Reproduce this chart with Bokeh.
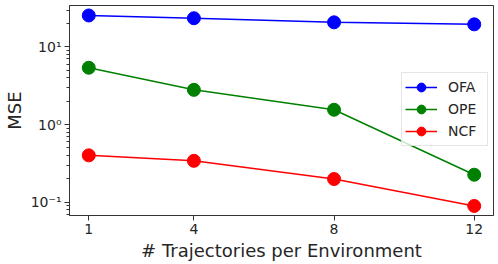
from bokeh.plotting import figure
from bokeh.models import Range1d, FixedTicker, Legend, LegendItem
from bokeh.embed import file_html
from bokeh.resources import INLINE

x_vals = [1, 4, 8, 12]
x_ticks = [1, 4, 8, 12]
ofa = [25.5, 23.5, 20.8, 19.6]
ope = [5.4, 2.8, 1.55, 0.225]
ncf = [0.40, 0.34, 0.198, 0.089]
series_names = ["OFA", "OPE", "NCF"]
series_colors = ["#0000ff", "#008000", "#ff0000"]
y_major = [0.1, 1, 10]
y_labels = {0.1: "10\u207b\u00b9", 1: "10\u2070", 10: "10\u00b9"}
y_minor = [0.07, 0.08, 0.09, 0.2, 0.3, 0.4, 0.5, 0.6, 0.7, 0.8, 0.9,
           2, 3, 4, 5, 6, 7, 8, 9, 20, 30]

FONT = "DejaVu Sans"
TXT = "#262626"

p = figure(width=498, height=264, output_backend="svg", toolbar_location=None,
           y_axis_type="log",
           x_range=Range1d(0.45, 12.55), y_range=Range1d(0.067, 34.3),
           min_border_left=69, min_border_right=5, min_border_top=5,
           min_border_bottom=49)
p.xgrid.visible = False
p.ygrid.visible = False
p.outline_line_color = "#333333"
p.outline_line_width = 1
p.background_fill_color = "white"
p.border_fill_color = "white"

items = []
for name, ys, col in zip(series_names, [ofa, ope, ncf], series_colors):
    r1 = p.line(x_vals, ys, line_color=col, line_width=1.5)
    r2 = p.scatter(x_vals, ys, size=13, fill_color=col, line_color=col)
    items.append(LegendItem(label=name, renderers=[r1, r2]))

legend = Legend(items=items, location=(332, 69))
legend.label_text_font = FONT
legend.label_text_font_size = "14px"
legend.label_text_color = TXT
legend.glyph_width = 32
legend.glyph_height = 22
legend.label_height = 22
legend.label_width = 36
legend.spacing = 0
legend.padding = 3
legend.margin = 0
legend.label_standoff = 11
legend.border_line_color = "#cccccc"
legend.border_line_width = 1
legend.background_fill_alpha = 0.8
p.add_layout(legend)

p.xaxis.ticker = FixedTicker(ticks=x_ticks)
p.yaxis.ticker = FixedTicker(ticks=y_major, minor_ticks=y_minor)
p.yaxis.major_label_overrides = y_labels

p.xaxis.axis_label = "# Trajectories per Environment"
p.yaxis.axis_label = "MSE"
for ax in (p.xaxis, p.yaxis):
    ax.axis_label_text_font = FONT
    ax.axis_label_text_font_size = "18px"
    ax.axis_label_text_font_style = "normal"
    ax.axis_label_text_color = TXT
    ax.major_label_text_font = FONT
    ax.major_label_text_font_size = "14px"
    ax.major_label_text_color = TXT
    ax.axis_line_color = "#333333"
    ax.major_tick_line_color = "#333333"
    ax.minor_tick_line_color = "#333333"
    ax.major_tick_out = 5
    ax.major_tick_in = 0
    ax.minor_tick_out = 3
    ax.minor_tick_in = 0
    ax.major_label_standoff = 3
    ax.axis_label_standoff = 3
p.xaxis.minor_tick_line_color = None

open("out.html", "w").write(file_html(p, INLINE))
